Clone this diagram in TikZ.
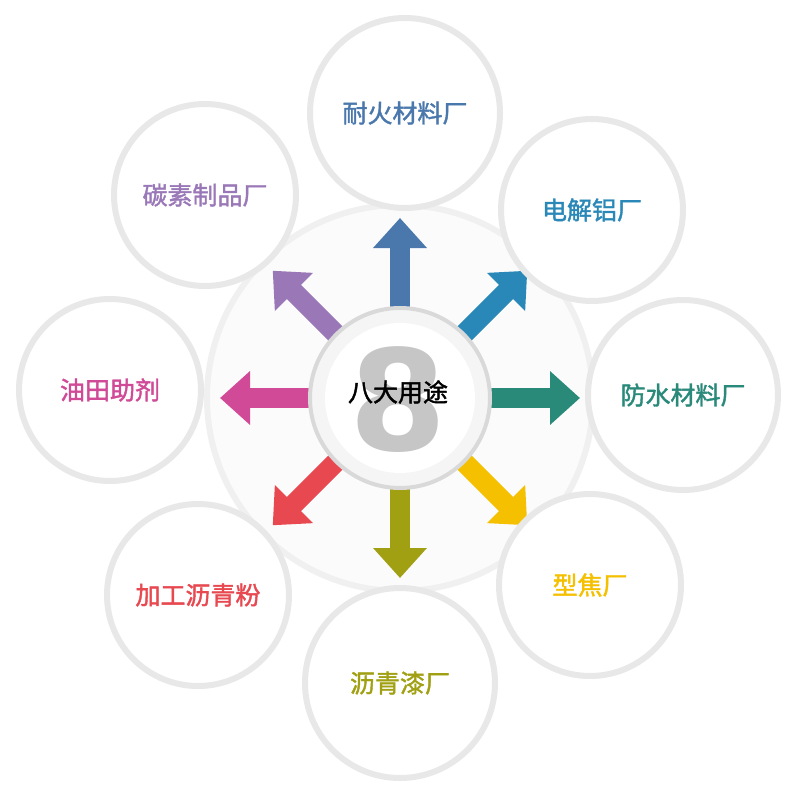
\documentclass[tikz,border=0pt]{standalone}
\usepackage{fontspec}
\newfontfamily\cjk[FakeBold=1.6]{Noto Sans CJK SC}
\setsansfont{DejaVu Sans}
\usetikzlibrary{arrows.meta}
\definecolor{cA}{HTML}{4A78AC}
\definecolor{cB}{HTML}{2A88B8}
\definecolor{cC}{HTML}{2A8A7A}
\definecolor{cD}{HTML}{F5C000}
\definecolor{cE}{HTML}{A0A012}
\definecolor{cF}{HTML}{E84850}
\definecolor{cG}{HTML}{D04A98}
\definecolor{cH}{HTML}{9A78B8}
\begin{document}
\begin{tikzpicture}[x=1pt,y=-1pt,
  ring/.style={circle,draw=gray!18,line width=6pt,fill=white,minimum size=#1,inner sep=0pt},
  lbl/.style={font=\cjk\fontsize{25}{25}\selectfont,text=#1},
  arr/.style={line width=20pt,draw=#1,-{Triangle[width=52pt,length=30pt]}}]
\useasboundingbox (0,0) rectangle (800,800);
\fill[white] (0,0) rectangle (800,800);
\node[ring=386pt,draw=gray!12,line width=6pt,fill=gray!3] (big) at (400,398) {};
\foreach \a/\c in {90/cA,45/cB,0/cC,-45/cD,-90/cE,-135/cF,180/cG,135/cH}{
  \draw[arr=\c] (400,398) ++({-\a}:60) -- ++({-\a}:120);
}
\node[ring=180pt,draw=gray!30,line width=4pt,fill=gray!8] (inner) at (400,398) {};
\node[circle,fill=white,minimum size=150pt] (glow) at (400,398) {};
\node[text=gray!45,font=\sffamily\bfseries\fontsize{140}{140}\selectfont] (eight) at (398,400) {8};
\node[lbl=black] (mid) at (398,392) {八大用途};
\node[ring=190pt] (c1) at (405,113) {}; \node[lbl=cA] at (c1) {耐火材料厂};
\node[ring=182pt] (c2) at (592,210) {}; \node[lbl=cB] at (c2) {电解铝厂};
\node[ring=190pt] (c3) at (683,395) {}; \node[lbl=cC] at (c3) {防水材料厂};
\node[ring=182pt] (c4) at (590,585) {}; \node[lbl=cD] at (c4) {型焦厂};
\node[ring=190pt] (c5) at (400,683) {}; \node[lbl=cE] at (c5) {沥青漆厂};
\node[ring=182pt] (c6) at (198,595) {}; \node[lbl=cF] at (c6) {加工沥青粉};
\node[ring=182pt] (c7) at (110,390) {}; \node[lbl=cG] at (c7) {油田助剂};
\node[ring=182pt] (c8) at (205,195) {}; \node[lbl=cH] at (c8) {碳素制品厂};
\end{tikzpicture}
\end{document}
